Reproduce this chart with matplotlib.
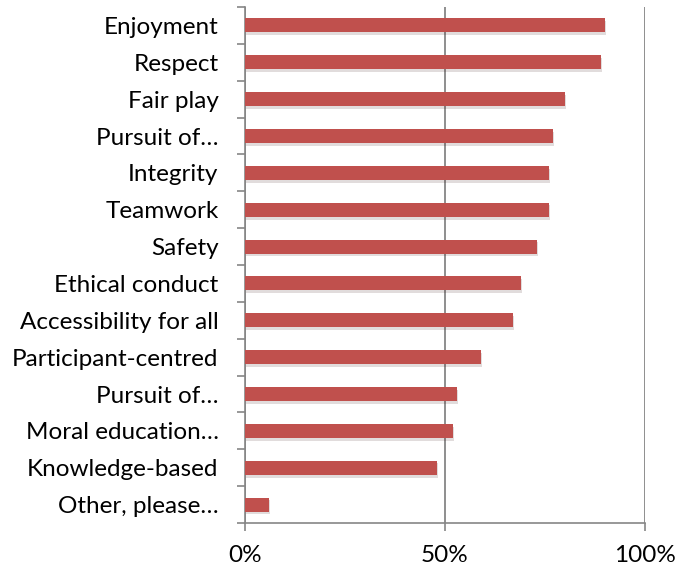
import matplotlib.pyplot as plt
import matplotlib.patheffects as pe
from matplotlib.ticker import FixedLocator, PercentFormatter

categories = [
    "Enjoyment", "Respect", "Fair play", "Pursuit of\u2026", "Integrity",
    "Teamwork", "Safety", "Ethical conduct", "Accessibility for all",
    "Participant-centred", "Pursuit of\u2026", "Moral education\u2026",
    "Knowledge-based", "Other, please\u2026",
]
values = [90, 89, 80, 77, 76, 76, 73, 69, 67, 59, 53, 52, 48, 6]
xticks = [0, 50, 100]

plt.rcParams["font.family"] = ["Lato", "DejaVu Sans"]

fig = plt.figure(figsize=(6.77, 5.79), dpi=100)
ax = fig.add_axes([0.3619, 0.0967, 0.5908, 0.8912])

pos = list(range(len(categories)))
bars = ax.barh(pos, values, height=0.38, color="#C0504D", zorder=3)
for b in bars:
    b.set_path_effects([pe.SimplePatchShadow(offset=(1, -2), alpha=0.15),
                        pe.Normal()])

ax.set_ylim(len(categories) - 0.5, -0.5)
ax.set_xlim(0, 100)
ax.set_yticks(pos)
ax.set_yticklabels(categories, fontsize=17.5)
ax.yaxis.set_minor_locator(FixedLocator([p - 0.5 for p in pos] + [len(pos) - 0.5]))
ax.tick_params(axis="y", which="major", length=0, pad=19)
ax.tick_params(axis="y", which="minor", length=6, color="#868686", width=1.2)

ax.set_xticks(xticks)
ax.xaxis.set_major_formatter(PercentFormatter(decimals=0))
ax.tick_params(axis="x", length=6, color="#868686", width=1.2, labelsize=17.5, pad=10)

ax.xaxis.grid(True, color="#868686", linewidth=1.3, zorder=0)
for s in ["top", "right"]:
    ax.spines[s].set_visible(False)
for s in ["left", "bottom"]:
    ax.spines[s].set_color("#868686")
    ax.spines[s].set_linewidth(1.2)

fig.savefig("out.png", dpi=100)
